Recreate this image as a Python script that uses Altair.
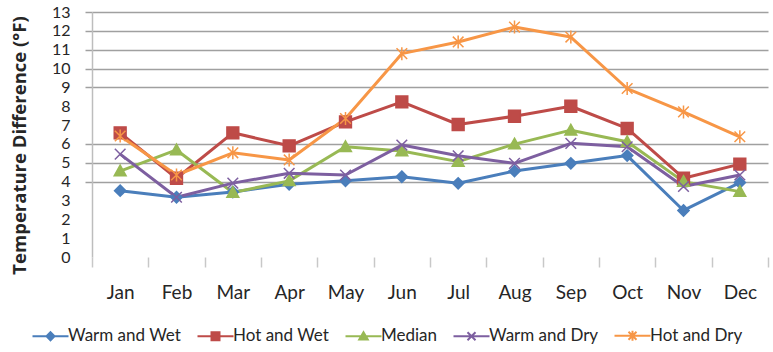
import altair as alt
import pandas as pd

months = ["Jan", "Feb", "Mar", "Apr", "May", "Jun", "Jul", "Aug", "Sep", "Oct", "Nov", "Dec"]
series_names = ["Warm and Wet", "Hot and Wet", "Median", "Warm and Dry", "Hot and Dry"]
warm_wet = [3.52, 3.17, 3.45, 3.86, 4.04, 4.26, 3.91, 4.56, 4.97, 5.38, 2.47, 3.95]
hot_wet = [6.59, 4.18, 6.59, 5.90, 7.17, 8.23, 7.03, 7.47, 8.00, 6.82, 4.18, 4.93]
median = [4.56, 5.68, 3.42, 4.04, 5.85, 5.62, 5.06, 5.99, 6.73, 6.12, 4.00, 3.47]
warm_dry = [5.46, 3.17, 3.92, 4.44, 4.35, 5.94, 5.37, 4.97, 6.03, 5.85, 3.74, 4.35]
hot_dry = [6.42, 4.35, 5.53, 5.15, 7.35, 10.79, 11.41, 12.20, 11.67, 8.94, 7.70, 6.38]
y_ticks = list(range(14))
grid_values = [4, 5, 6, 9, 10, 11, 12, 13]

values_by_series = [warm_wet, hot_wet, median, warm_dry, hot_dry]
rows = []
for name, vals in zip(series_names, values_by_series):
    for m, v in zip(months, vals):
        rows.append({"month": m, "series": name, "value": v})
df = pd.DataFrame(rows)

# styles
colors = ["#4A7EBB", "#BE4B48", "#98B954", "#7D5FA0", "#F79646"]
marker_paths = {
    "Warm and Wet": "M0,-0.95L0.95,0L0,0.95L-0.95,0Z",
    "Hot and Wet": "M-1,-1L1,-1L1,1L-1,1Z",
    "Median": "M0,-1L1,0.8L-1,0.8Z",
    "Warm and Dry": "M-0.9,-0.9L0.9,0.9M-0.9,0.9L0.9,-0.9",
    "Hot and Dry": "M-0.9,-0.9L0.9,0.9M-0.9,0.9L0.9,-0.9M0,-1.1L0,1.1",
}
legend_paths = [
    "M-3.6,0L3.6,0M0,-0.8L0.8,0L0,0.8L-0.8,0Z",
    "M-3.6,0L3.6,0M-0.8,-0.8L0.8,-0.8L0.8,0.8L-0.8,0.8Z",
    "M-3.6,0L3.6,0M0,-0.8L0.85,0.65L-0.85,0.65Z",
    "M-3.6,0L3.6,0M-0.8,-0.8L0.8,0.8M-0.8,0.8L0.8,-0.8",
    "M-3.6,0L3.6,0M-0.8,-0.8L0.8,0.8M-0.8,0.8L0.8,-0.8M0,-1L0,1",
]

marker_expr = "'M0,0'"
for name in reversed(series_names):
    marker_expr = f"datum.series === '{name}' ? '{marker_paths[name]}' : ({marker_expr})"

color_scale = alt.Scale(domain=series_names, range=colors)
font = "Lato"
text_color = "#262626"
grid_test = f"indexof({grid_values}, datum.value) >= 0"

x_enc = alt.X(
    "month:N",
    sort=months,
    bandPosition=0.5,
    scale=alt.Scale(type="band", paddingInner=0, paddingOuter=0),
    axis=alt.Axis(
        title=None,
        labelAngle=0,
        labelFont=font,
        labelFontSize=19,
        labelColor=text_color,
        labelPadding=16,
        tickBand="extent",
        tickSize=10,
        tickColor="#C8C8C8",
        tickWidth=1.5,
        domain=False,
        grid=False,
    ),
)
y_enc = alt.Y(
    "value:Q",
    scale=alt.Scale(domain=[0, 13], nice=False, zero=True),
    axis=alt.Axis(
        values=y_ticks,
        title="Temperature Difference (°F)",
        titleFont="Open Sans",
        titleFontSize=18.5,
        titleFontWeight="bold",
        titleColor=text_color,
        titleX=-63,
        titleY=133,
        labelFont=font,
        labelFontSize=16,
        labelColor=text_color,
        labelPadding=15,
        tickSize=7,
        tickColor="#A0A0A0",
        tickWidth=1.5,
        tickOpacity={"condition": {"test": grid_test, "value": 1}, "value": 0},
        grid=True,
        gridColor="#A0A0A0",
        gridWidth=1.5,
        gridOpacity={"condition": {"test": grid_test, "value": 1}, "value": 0},
        domainColor="#BDBDBD",
        domainWidth=1.5,
    ),
)

leg = alt.Legend(
    title=None,
    orient="none",
    legendX=-50,
    legendY=315,
    direction="horizontal",
    columns=5,
    labelFont=font,
    labelFontSize=17,
    labelColor=text_color,
    symbolSize=100,
    symbolStrokeWidth=2,
    labelOffset=9,
    columnPadding=11,
    padding=0,
)

base = alt.Chart(df)

lines = base.mark_line(strokeWidth=3, strokeJoin="round").encode(
    x=x_enc,
    y=y_enc,
    color=alt.Color("series:N", scale=color_scale, legend=leg),
)

points = base.transform_calculate(marker=marker_expr).mark_point(
    filled=True, size=140, strokeWidth=1.5, opacity=1
).encode(
    x=x_enc,
    y=y_enc,
    color=alt.Color("series:N", scale=color_scale, legend=leg),
    stroke=alt.Stroke("series:N", scale=color_scale, legend=leg),
    shape=alt.Shape("marker:N", scale=None, legend=None),
)

carrier = base.transform_filter("false").mark_point(
    filled=True, size=100, strokeWidth=2, opacity=1
).encode(
    color=alt.Color("series:N", scale=color_scale, legend=leg),
    stroke=alt.Stroke("series:N", scale=color_scale, legend=leg),
    shape=alt.Shape("series:N", scale=alt.Scale(domain=series_names, range=legend_paths), legend=leg),
)

chart = (
    alt.layer(lines, points, carrier)
    .properties(
        width=676,
        height=245,
        autosize=alt.AutoSizeParams(type="none"),
        padding={"left": 92, "top": 12, "right": 5, "bottom": 95},
        background="white",
    )
    .configure_view(stroke=None)
)

chart.save("out.html", embed_options={"renderer": "svg", "actions": False})
